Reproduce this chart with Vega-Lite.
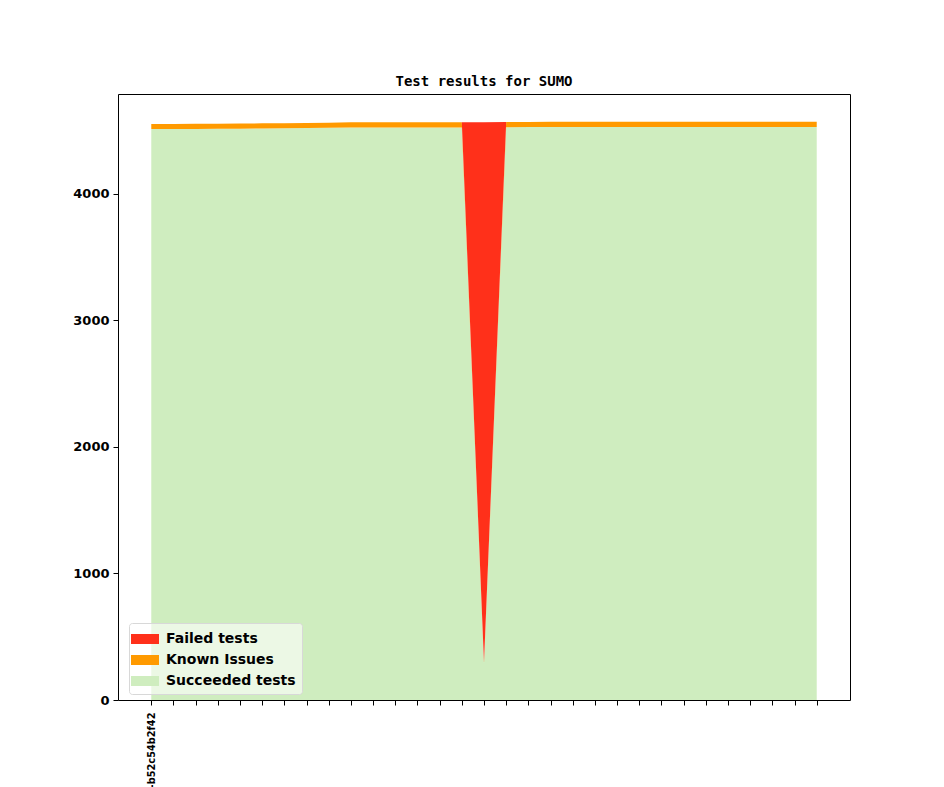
{
  "$schema": "https://vega.github.io/schema/vega-lite/v6.json",
  "autosize": {"type": "none"},
  "width": 732,
  "height": 606,
  "padding": {"left": 118, "top": 94, "right": 94, "bottom": 87},
  "background": "white",
  "title": {
    "text": "Test results for SUMO",
    "font": "DejaVu Sans Mono",
    "fontSize": 14,
    "fontWeight": "bold",
    "color": "black",
    "anchor": "middle",
    "offset": 5
  },
  "config": {
    "view": {"stroke": "black", "strokeWidth": 1},
    "axis": {"grid": false, "domain": false, "tickColor": "black", "labelColor": "black", "labelFont": "DejaVu Sans", "labelFontWeight": "bold"}
  },
  "data": {
    "values": [
      {"i": 0, "series": "Succeeded tests", "ord": 1, "n": 4513},
      {"i": 1, "series": "Succeeded tests", "ord": 1, "n": 4513},
      {"i": 2, "series": "Succeeded tests", "ord": 1, "n": 4514},
      {"i": 3, "series": "Succeeded tests", "ord": 1, "n": 4515},
      {"i": 4, "series": "Succeeded tests", "ord": 1, "n": 4516},
      {"i": 5, "series": "Succeeded tests", "ord": 1, "n": 4518},
      {"i": 6, "series": "Succeeded tests", "ord": 1, "n": 4519},
      {"i": 7, "series": "Succeeded tests", "ord": 1, "n": 4521},
      {"i": 8, "series": "Succeeded tests", "ord": 1, "n": 4523},
      {"i": 9, "series": "Succeeded tests", "ord": 1, "n": 4526},
      {"i": 10, "series": "Succeeded tests", "ord": 1, "n": 4526},
      {"i": 11, "series": "Succeeded tests", "ord": 1, "n": 4526},
      {"i": 12, "series": "Succeeded tests", "ord": 1, "n": 4526},
      {"i": 13, "series": "Succeeded tests", "ord": 1, "n": 4526},
      {"i": 14, "series": "Succeeded tests", "ord": 1, "n": 4526},
      {"i": 15, "series": "Succeeded tests", "ord": 1, "n": 290},
      {"i": 16, "series": "Succeeded tests", "ord": 1, "n": 4528},
      {"i": 17, "series": "Succeeded tests", "ord": 1, "n": 4529},
      {"i": 18, "series": "Succeeded tests", "ord": 1, "n": 4530},
      {"i": 19, "series": "Succeeded tests", "ord": 1, "n": 4530},
      {"i": 20, "series": "Succeeded tests", "ord": 1, "n": 4530},
      {"i": 21, "series": "Succeeded tests", "ord": 1, "n": 4530},
      {"i": 22, "series": "Succeeded tests", "ord": 1, "n": 4530},
      {"i": 23, "series": "Succeeded tests", "ord": 1, "n": 4530},
      {"i": 24, "series": "Succeeded tests", "ord": 1, "n": 4530},
      {"i": 25, "series": "Succeeded tests", "ord": 1, "n": 4530},
      {"i": 26, "series": "Succeeded tests", "ord": 1, "n": 4530},
      {"i": 27, "series": "Succeeded tests", "ord": 1, "n": 4530},
      {"i": 28, "series": "Succeeded tests", "ord": 1, "n": 4530},
      {"i": 29, "series": "Succeeded tests", "ord": 1, "n": 4530},
      {"i": 30, "series": "Succeeded tests", "ord": 1, "n": 4530},
      {"i": 0, "series": "Known Issues", "ord": 2, "n": 40},
      {"i": 1, "series": "Known Issues", "ord": 2, "n": 40},
      {"i": 2, "series": "Known Issues", "ord": 2, "n": 40},
      {"i": 3, "series": "Known Issues", "ord": 2, "n": 40},
      {"i": 4, "series": "Known Issues", "ord": 2, "n": 40},
      {"i": 5, "series": "Known Issues", "ord": 2, "n": 40},
      {"i": 6, "series": "Known Issues", "ord": 2, "n": 40},
      {"i": 7, "series": "Known Issues", "ord": 2, "n": 40},
      {"i": 8, "series": "Known Issues", "ord": 2, "n": 40},
      {"i": 9, "series": "Known Issues", "ord": 2, "n": 40},
      {"i": 10, "series": "Known Issues", "ord": 2, "n": 40},
      {"i": 11, "series": "Known Issues", "ord": 2, "n": 40},
      {"i": 12, "series": "Known Issues", "ord": 2, "n": 40},
      {"i": 13, "series": "Known Issues", "ord": 2, "n": 40},
      {"i": 14, "series": "Known Issues", "ord": 2, "n": 40},
      {"i": 15, "series": "Known Issues", "ord": 2, "n": 8},
      {"i": 16, "series": "Known Issues", "ord": 2, "n": 40},
      {"i": 17, "series": "Known Issues", "ord": 2, "n": 40},
      {"i": 18, "series": "Known Issues", "ord": 2, "n": 40},
      {"i": 19, "series": "Known Issues", "ord": 2, "n": 40},
      {"i": 20, "series": "Known Issues", "ord": 2, "n": 40},
      {"i": 21, "series": "Known Issues", "ord": 2, "n": 40},
      {"i": 22, "series": "Known Issues", "ord": 2, "n": 40},
      {"i": 23, "series": "Known Issues", "ord": 2, "n": 40},
      {"i": 24, "series": "Known Issues", "ord": 2, "n": 40},
      {"i": 25, "series": "Known Issues", "ord": 2, "n": 40},
      {"i": 26, "series": "Known Issues", "ord": 2, "n": 40},
      {"i": 27, "series": "Known Issues", "ord": 2, "n": 40},
      {"i": 28, "series": "Known Issues", "ord": 2, "n": 40},
      {"i": 29, "series": "Known Issues", "ord": 2, "n": 40},
      {"i": 30, "series": "Known Issues", "ord": 2, "n": 40},
      {"i": 0, "series": "Failed tests", "ord": 3, "n": 0},
      {"i": 1, "series": "Failed tests", "ord": 3, "n": 0},
      {"i": 2, "series": "Failed tests", "ord": 3, "n": 0},
      {"i": 3, "series": "Failed tests", "ord": 3, "n": 0},
      {"i": 4, "series": "Failed tests", "ord": 3, "n": 0},
      {"i": 5, "series": "Failed tests", "ord": 3, "n": 0},
      {"i": 6, "series": "Failed tests", "ord": 3, "n": 0},
      {"i": 7, "series": "Failed tests", "ord": 3, "n": 0},
      {"i": 8, "series": "Failed tests", "ord": 3, "n": 0},
      {"i": 9, "series": "Failed tests", "ord": 3, "n": 0},
      {"i": 10, "series": "Failed tests", "ord": 3, "n": 0},
      {"i": 11, "series": "Failed tests", "ord": 3, "n": 0},
      {"i": 12, "series": "Failed tests", "ord": 3, "n": 0},
      {"i": 13, "series": "Failed tests", "ord": 3, "n": 0},
      {"i": 14, "series": "Failed tests", "ord": 3, "n": 0},
      {"i": 15, "series": "Failed tests", "ord": 3, "n": 4268},
      {"i": 16, "series": "Failed tests", "ord": 3, "n": 0},
      {"i": 17, "series": "Failed tests", "ord": 3, "n": 0},
      {"i": 18, "series": "Failed tests", "ord": 3, "n": 0},
      {"i": 19, "series": "Failed tests", "ord": 3, "n": 0},
      {"i": 20, "series": "Failed tests", "ord": 3, "n": 0},
      {"i": 21, "series": "Failed tests", "ord": 3, "n": 0},
      {"i": 22, "series": "Failed tests", "ord": 3, "n": 0},
      {"i": 23, "series": "Failed tests", "ord": 3, "n": 0},
      {"i": 24, "series": "Failed tests", "ord": 3, "n": 0},
      {"i": 25, "series": "Failed tests", "ord": 3, "n": 0},
      {"i": 26, "series": "Failed tests", "ord": 3, "n": 0},
      {"i": 27, "series": "Failed tests", "ord": 3, "n": 0},
      {"i": 28, "series": "Failed tests", "ord": 3, "n": 0},
      {"i": 29, "series": "Failed tests", "ord": 3, "n": 0},
      {"i": 30, "series": "Failed tests", "ord": 3, "n": 0}
    ]
  },
  "mark": {"type": "area", "interpolate": "linear", "opacity": 1},
  "encoding": {
    "x": {
      "field": "i",
      "type": "quantitative",
      "scale": {"domain": [-1.5, 31.5], "nice": false, "zero": false},
      "axis": {
        "title": null,
        "values": [0,1,2,3,4,5,6,7,8,9,10,11,12,13,14,15,16,17,18,19,20,21,22,23,24,25,26,27,28,29,30],
        "labelExpr": "datum.value == 0 ? '-b52c54b2f42' : ''",
        "labelAngle": -90,
        "labelAlign": "right",
        "labelBaseline": "middle",
        "labelFontSize": 9.8,
        "labelPadding": 7,
        "tickSize": 5,
        "labelOverlap": false,
        "labelBound": false,
        "labelFlush": false
      }
    },
    "y": {
      "field": "n",
      "type": "quantitative",
      "stack": "zero",
      "scale": {"domain": [0, 4790], "nice": false},
      "axis": {
        "title": null,
        "values": [0, 1000, 2000, 3000, 4000],
        "format": "d",
        "labelFontSize": 13,
        "tickSize": 5,
        "labelPadding": 4
      }
    },
    "color": {
      "field": "series",
      "type": "nominal",
      "scale": {
        "domain": ["Failed tests", "Known Issues", "Succeeded tests"],
        "range": ["#ff301a", "#ff9a00", "#cfedbf"]
      },
      "legend": {
        "title": null,
        "orient": "none",
        "legendX": 11,
        "legendY": 529,
        "symbolType": "M-1.4,-0.5H1.4V0.5H-1.4Z",
        "symbolSize": 400,
        "symbolStrokeWidth": 0,
        "symbolOpacity": 1,
        "labelFont": "DejaVu Sans",
        "labelFontWeight": "bold",
        "labelFontSize": 14,
        "labelColor": "black",
        "labelOffset": 11,
        "rowPadding": 4,
        "padding": 6,
        "fillColor": "rgba(255,255,255,0.6)",
        "strokeColor": "#d8d8d8",
        "cornerRadius": 3
      }
    },
    "order": {"field": "ord", "type": "quantitative", "sort": "ascending"}
  }
}
